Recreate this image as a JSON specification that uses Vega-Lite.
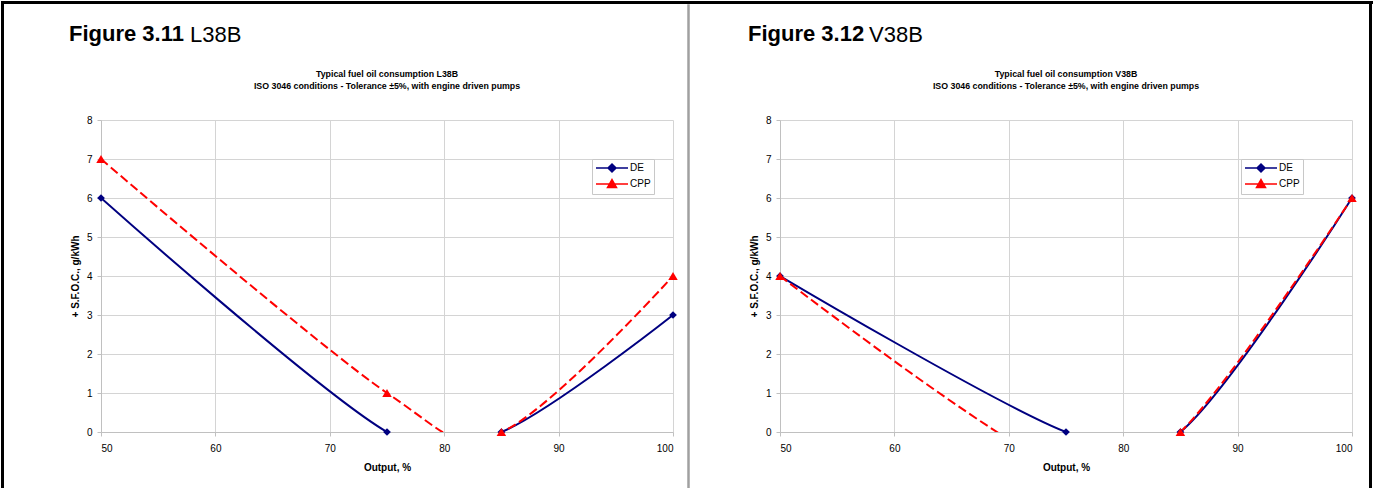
{
  "$schema": "https://vega.github.io/schema/vega-lite/v6.json",
  "background": "white",
  "autosize": {"type": "pad"},
  "padding": {"left": 1, "top": 1, "right": 0, "bottom": 0},
  "config": {
    "font": "Liberation Sans",
    "view": {"stroke": null},
    "axis": {
      "labelFont": "Liberation Sans", "labelFontSize": 10, "labelColor": "#000000",
      "titleFont": "Liberation Sans", "titleFontSize": 10, "titleFontWeight": "bold", "titleColor": "#000000",
      "gridColor": "#d4d4d4", "domainColor": "#c0c0c0", "tickColor": "#c0c0c0", "tickSize": 4
    },
    "title": {"font": "Liberation Sans", "color": "#000000"},
    "legend": {
      "title": null, "orient": "none", "legendY": 39, "padding": 3,
      "fillColor": "#ffffff", "strokeColor": "#c8c8c8",
      "labelFont": "Liberation Sans", "labelFontSize": 10, "labelColor": "#000000",
      "symbolSize": 100, "symbolStrokeWidth": 1.5, "labelOffset": 23, "rowPadding": 1
    }
  },
  "datasets": {
    "l38b": [
      {"series": "DE", "output": 50, "sfoc": 6},
      {"series": "DE", "output": 75, "sfoc": 0},
      {"series": "DE", "output": 85, "sfoc": 0},
      {"series": "DE", "output": 100, "sfoc": 3},
      {"series": "CPP", "output": 50, "sfoc": 7},
      {"series": "CPP", "output": 75, "sfoc": 1},
      {"series": "CPP", "output": 85, "sfoc": 0},
      {"series": "CPP", "output": 100, "sfoc": 4}
    ],
    "v38b": [
      {"series": "DE", "output": 50, "sfoc": 4},
      {"series": "DE", "output": 75, "sfoc": 0},
      {"series": "DE", "output": 85, "sfoc": 0},
      {"series": "DE", "output": 100, "sfoc": 6},
      {"series": "CPP", "output": 50, "sfoc": 4},
      {"series": "CPP", "output": 75, "sfoc": -1},
      {"series": "CPP", "output": 85, "sfoc": 0},
      {"series": "CPP", "output": 100, "sfoc": 6}
    ],
    "none": []
  },
  "spacing": 0,
  "resolve": {"scale": {"x": "independent", "y": "independent", "color": "independent"}, "legend": {"color": "independent"}},
  "vconcat": [
    {"width": 1370, "height": 1, "view": {"stroke": "#000000", "strokeWidth": 2}, "data": {"name": "none"}, "mark": "rule", "encoding": {}},
    {
      "spacing": 0,
      "resolve": {"scale": {"x": "independent", "y": "independent", "color": "independent"}, "legend": {"color": "independent"}},
      "hconcat": [
        {"width": 1, "height": 490, "view": {"stroke": "#000000", "strokeWidth": 2}, "data": {"name": "none"}, "mark": "rule", "encoding": {}},
        {"width": 65, "height": 1, "data": {"name": "none"}, "mark": "rule", "encoding": {}},
        {
          "spacing": 0,
          "resolve": {"scale": {"x": "independent", "y": "independent", "color": "independent"}, "legend": {"color": "independent"}},
          "vconcat": [
            {"width": 1, "height": 18, "data": {"name": "none"}, "mark": "rule", "encoding": {}},
            {
              "title": {"text": "Figure 3.11", "anchor": "start", "frame": "group", "fontSize": 22, "fontWeight": "bold", "offset": -22, "dx": -32},
              "resolve": {"scale": {"x": "independent", "y": "independent", "color": "independent"}, "legend": {"color": "independent"}},
              "vconcat": [
                {
                  "title": {"text": "L38B", "anchor": "start", "frame": "group", "fontSize": 22, "fontWeight": "normal", "dx": 89, "offset": 23},
                  "resolve": {"scale": {"x": "independent", "y": "independent", "color": "independent"}, "legend": {"color": "independent"}},
                  "vconcat": [
                    {
                      "width": 572, "height": 312,
                      "data": {"name": "l38b"},
                      "title": {"text": ["Typical fuel oil consumption L38B", "ISO 3046 conditions - Tolerance ±5%, with engine driven pumps"], "anchor": "middle", "frame": "group", "fontSize": 8.8, "fontWeight": "bold", "lineHeight": 12, "offset": 24},
                      "encoding": {
                        "x": {"field": "output", "type": "quantitative", "scale": {"domain": [50, 100], "nice": false, "zero": false}, "axis": {"values": [50, 60, 70, 80, 90, 100], "title": "Output, %", "labelPadding": 7, "titlePadding": 9}},
                        "y": {"field": "sfoc", "type": "quantitative", "scale": {"domain": [0, 8], "nice": false}, "axis": {"values": [0, 1, 2, 3, 4, 5, 6, 7, 8], "title": "+ S.F.O.C., g/kWh", "labelPadding": 5, "titlePadding": 6}},
                        "color": {
                          "field": "series", "type": "nominal",
                          "scale": {"domain": ["DE", "CPP"], "range": ["#000080", "#ff0000"]},
                          "legend": {
                            "legendX": 491,
                            "encoding": {
                              "symbols": {
                                "shape": {"condition": {"test": "datum.value === 'DE'", "value": "M-1,0L5.4,0M2.2,-0.8L3,0L2.2,0.8L1.4,0Z"}, "value": "M-1,0L5.4,0M2.2,-0.9L3.1,0.7L1.3,0.7Z"},
                                "fill": {"condition": {"test": "datum.value === 'DE'", "value": "#000080"}, "value": "#ff0000"},
                                "stroke": {"condition": {"test": "datum.value === 'DE'", "value": "#000080"}, "value": "#ff0000"},
                                "opacity": {"value": 1}
                              }
                            }
                          }
                        }
                      },
                      "layer": [
                        {
                          "transform": [{"filter": "datum.series === 'DE'"}],
                          "mark": {"type": "line", "interpolate": "cardinal", "clip": true, "strokeWidth": 2}
                        },
                        {
                          "transform": [{"filter": "datum.series === 'CPP'"}],
                          "mark": {"type": "line", "interpolate": "cardinal", "clip": true, "strokeWidth": 2, "strokeDash": [9, 4]}
                        },
                        {
                          "transform": [{"filter": "datum.sfoc >= 0 && datum.series === 'DE'"}],
                          "mark": {"type": "point", "shape": "diamond", "filled": true, "opacity": 1, "size": 60}
                        },
                        {
                          "transform": [{"filter": "datum.sfoc >= 0 && datum.series === 'CPP'"}],
                          "mark": {"type": "point", "shape": "triangle-up", "filled": true, "opacity": 1, "size": 90}
                        }
                      ]
                    }
                  ]
                }
              ]
            }
          ]
        },
        {"width": 9, "height": 1, "data": {"name": "none"}, "mark": "rule", "encoding": {}},
        {"width": 1, "height": 490, "view": {"stroke": "#a0a0a0", "strokeWidth": 1.5}, "data": {"name": "none"}, "mark": "rule", "encoding": {}},
        {"width": 58, "height": 1, "data": {"name": "none"}, "mark": "rule", "encoding": {}},
        {
          "spacing": 0,
          "resolve": {"scale": {"x": "independent", "y": "independent", "color": "independent"}, "legend": {"color": "independent"}},
          "vconcat": [
            {"width": 1, "height": 18, "data": {"name": "none"}, "mark": "rule", "encoding": {}},
            {
              "title": {"text": "Figure 3.12", "anchor": "start", "frame": "group", "fontSize": 22, "fontWeight": "bold", "offset": -22, "dx": -32},
              "resolve": {"scale": {"x": "independent", "y": "independent", "color": "independent"}, "legend": {"color": "independent"}},
              "vconcat": [
                {
                  "title": {"text": "V38B", "anchor": "start", "frame": "group", "fontSize": 22, "fontWeight": "normal", "dx": 89, "offset": 23},
                  "resolve": {"scale": {"x": "independent", "y": "independent", "color": "independent"}, "legend": {"color": "independent"}},
                  "vconcat": [
                    {
                      "width": 572, "height": 312,
                      "data": {"name": "v38b"},
                      "title": {"text": ["Typical fuel oil consumption V38B", "ISO 3046 conditions - Tolerance ±5%, with engine driven pumps"], "anchor": "middle", "frame": "group", "fontSize": 8.8, "fontWeight": "bold", "lineHeight": 12, "offset": 24},
                      "encoding": {
                        "x": {"field": "output", "type": "quantitative", "scale": {"domain": [50, 100], "nice": false, "zero": false}, "axis": {"values": [50, 60, 70, 80, 90, 100], "title": "Output, %", "labelPadding": 7, "titlePadding": 9}},
                        "y": {"field": "sfoc", "type": "quantitative", "scale": {"domain": [0, 8], "nice": false}, "axis": {"values": [0, 1, 2, 3, 4, 5, 6, 7, 8], "title": "+ S.F.O.C., g/kWh", "labelPadding": 5, "titlePadding": 6}},
                        "color": {
                          "field": "series", "type": "nominal",
                          "scale": {"domain": ["DE", "CPP"], "range": ["#000080", "#ff0000"]},
                          "legend": {
                            "legendX": 461,
                            "encoding": {
                              "symbols": {
                                "shape": {"condition": {"test": "datum.value === 'DE'", "value": "M-1,0L5.4,0M2.2,-0.8L3,0L2.2,0.8L1.4,0Z"}, "value": "M-1,0L5.4,0M2.2,-0.9L3.1,0.7L1.3,0.7Z"},
                                "fill": {"condition": {"test": "datum.value === 'DE'", "value": "#000080"}, "value": "#ff0000"},
                                "stroke": {"condition": {"test": "datum.value === 'DE'", "value": "#000080"}, "value": "#ff0000"},
                                "opacity": {"value": 1}
                              }
                            }
                          }
                        }
                      },
                      "layer": [
                        {
                          "transform": [{"filter": "datum.series === 'DE'"}],
                          "mark": {"type": "line", "interpolate": "cardinal", "clip": true, "strokeWidth": 2}
                        },
                        {
                          "transform": [{"filter": "datum.series === 'CPP'"}],
                          "mark": {"type": "line", "interpolate": "cardinal", "clip": true, "strokeWidth": 2, "strokeDash": [9, 4]}
                        },
                        {
                          "transform": [{"filter": "datum.sfoc >= 0 && datum.series === 'DE'"}],
                          "mark": {"type": "point", "shape": "diamond", "filled": true, "opacity": 1, "size": 60}
                        },
                        {
                          "transform": [{"filter": "datum.sfoc >= 0 && datum.series === 'CPP'"}],
                          "mark": {"type": "point", "shape": "triangle-up", "filled": true, "opacity": 1, "size": 90}
                        }
                      ]
                    }
                  ]
                }
              ]
            }
          ]
        },
        {"width": 12, "height": 1, "data": {"name": "none"}, "mark": "rule", "encoding": {}},
        {"width": 1, "height": 490, "view": {"stroke": "#000000", "strokeWidth": 2}, "data": {"name": "none"}, "mark": "rule", "encoding": {}}
      ]
    }
  ]
}
